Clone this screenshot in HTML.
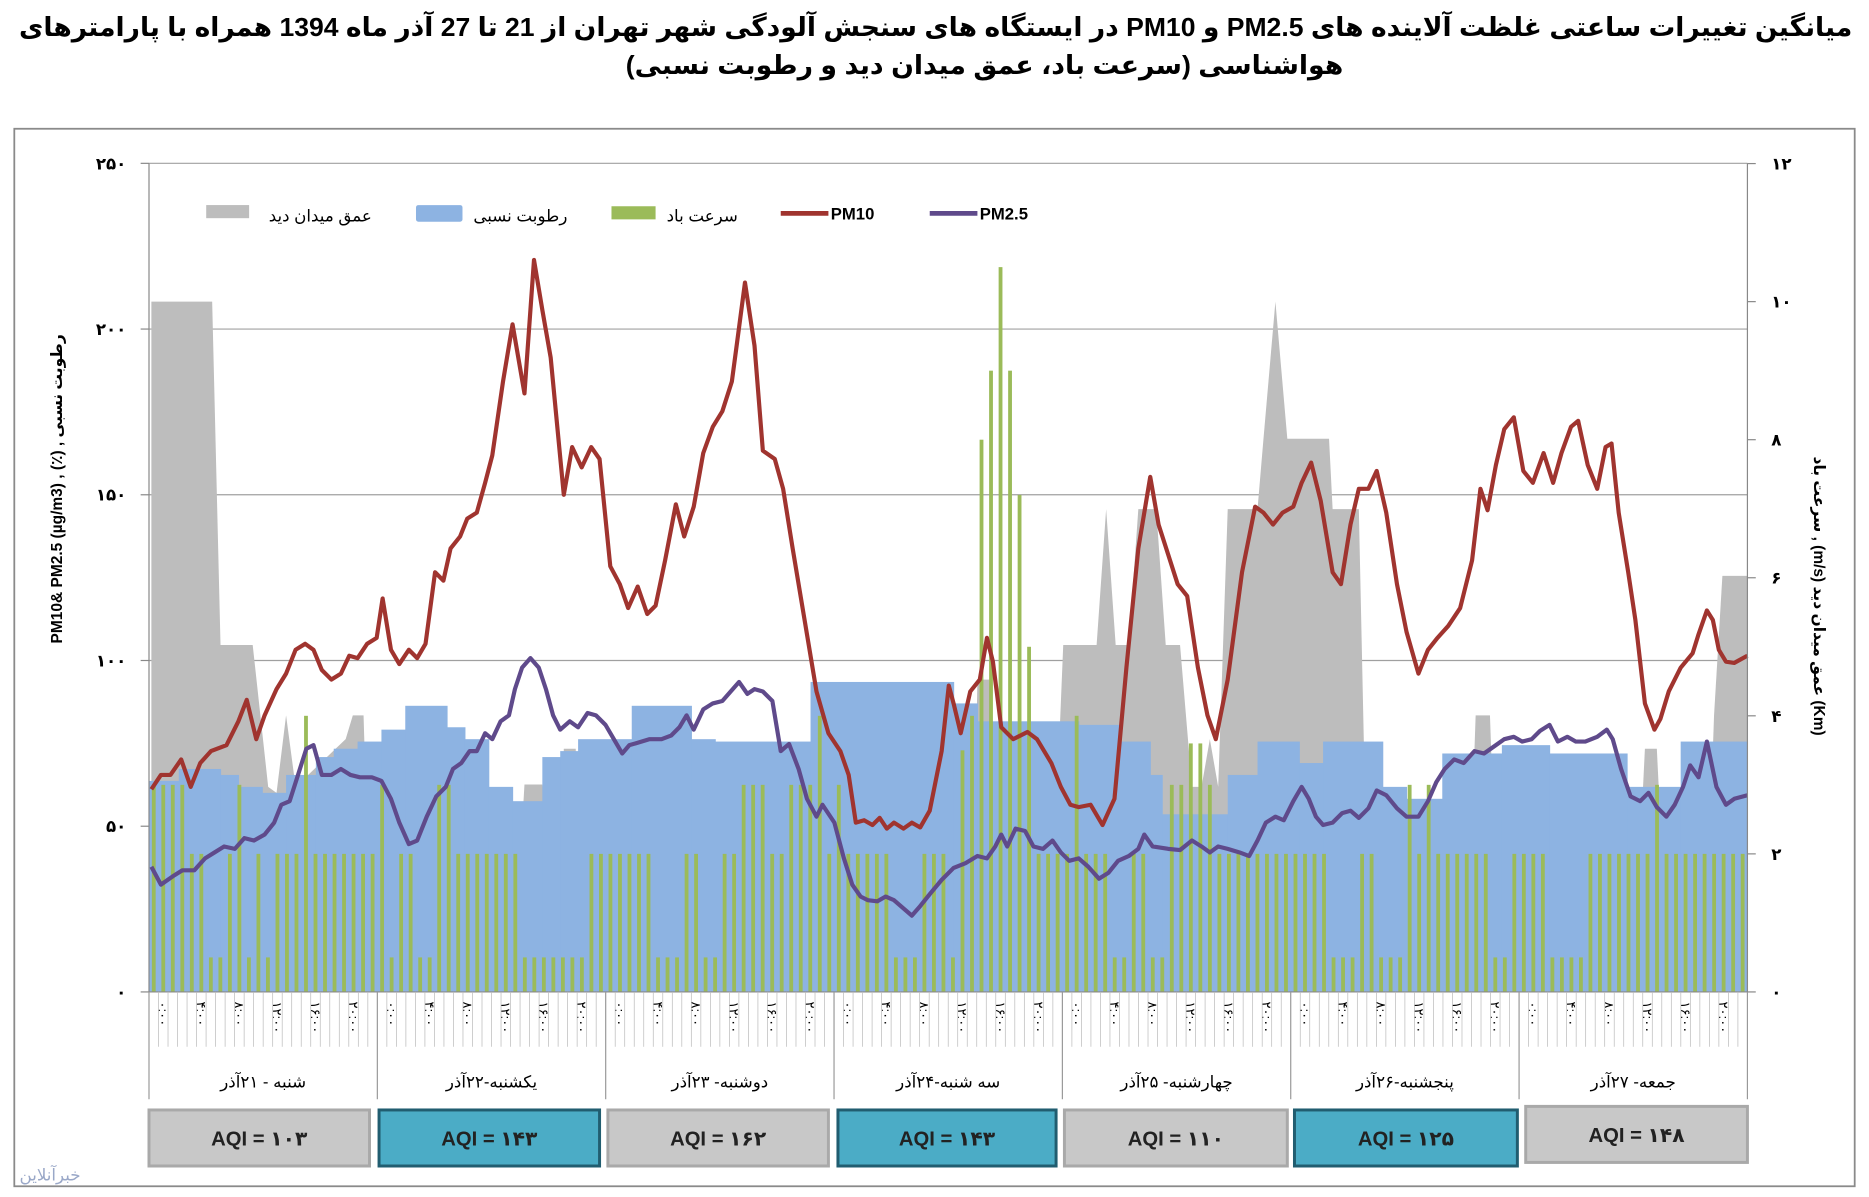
<!DOCTYPE html>
<html><head><meta charset="utf-8">
<style>
html,body{margin:0;padding:0;background:#fff;}
svg{display:block;}
text{font-family:"Liberation Sans","DejaVu Sans",sans-serif;}
</style></head>
<body>
<svg id="s" width="1869" height="1197" viewBox="0 0 1568 1004" preserveAspectRatio="none" xmlns="http://www.w3.org/2000/svg">
<rect width="1568" height="1004" fill="#fff"/>
<text x="785" y="30" text-anchor="middle" font-size="22" font-weight="bold" direction="rtl" textLength="1538" lengthAdjust="spacingAndGlyphs">میانگین تغییرات ساعتی غلظت آلاینده های PM2.5 و PM10 در ایستگاه های سنجش آلودگی شهر تهران از 21 تا 27 آذر ماه 1394 همراه با پارامترهای</text>
<text x="826" y="62" text-anchor="middle" font-size="22" font-weight="bold" direction="rtl" textLength="602" lengthAdjust="spacingAndGlyphs">هواشناسی (سرعت باد، عمق میدان دید و رطوبت نسبی)</text>
<rect x="12" y="108" width="1544" height="887" fill="#fff" stroke="#8a8a8a" stroke-width="1.5"/>
<g id="grid"></g>
<g id="gray"></g>
<g id="hum"></g>
<g id="wind"></g>
<g id="lines"></g>
<g id="axes"></g>
</svg>
<script>
var NS="http://www.w3.org/2000/svg",S=document.getElementById('s');
function el(p,t,a,txt){var e=document.createElementNS(NS,t);for(var k in a)e.setAttribute(k,a[k]);if(txt!==undefined)e.textContent=txt;document.getElementById(p)?document.getElementById(p).appendChild(e):S.appendChild(e);return e;}
var X0=125,X1=1466,Y0=832,HW=(X1-X0)/168;
[137,276,415,554,693].forEach(function(y){el('grid','line',{x1:X0,x2:X1,y1:y,y2:y,stroke:'#a0a0a0','stroke-width':1});});
var gp=[[[127,832],[127,253],[178,253],[185,541],[212,541],[225,660],[232,665],[240,600],[248,660],[290,620],[296,600],[305,600],[312,832]],
[[430,832],[440,658],[455,658],[465,832]],[[470,832],[473,628],[483,628],[490,832]],
[[815,832],[820,570],[830,570],[835,832]],
[[880,832],[892,541],[920,541],[928,427],[936,541],[947,541],[955,427],[970,427],[978,541],[990,541],[1000,660],[1008,660],[1015,620],[1022,660],[1030,427],[1055,427],[1060,368],[1070,253],[1080,368],[1115,368],[1118,427],[1140,427],[1145,660],[1150,832]],
[[1230,832],[1238,600],[1250,600],[1258,832]],[[1370,832],[1380,628],[1390,628],[1400,832]],
[[1430,832],[1438,600],[1445,483],[1466,483],[1466,832]]];
gp.forEach(function(p){el('gray','polygon',{points:p.join(' '),fill:'#bdbdbd'});});
var hs=[[125,150,655],[150,185,645],[185,200,650],[200,220,660],[220,240,665],[240,265,650],[265,280,635],[280,300,628],[300,320,622],[320,340,612],[340,375,592],[375,390,610],[390,410,620],[410,430,660],[430,455,672],[455,470,635],[470,485,630],[485,530,620],[530,580,592],[580,600,620],[600,680,622],[680,800,572],[800,820,590],[820,905,605],[905,940,608],[940,965,622],[965,975,650],[975,1030,683],[1030,1055,650],[1055,1090,622],[1090,1110,640],[1110,1160,622],[1160,1180,660],[1180,1210,670],[1210,1260,632],[1260,1300,625],[1300,1365,632],[1365,1410,660],[1410,1466,622]];
hs.forEach(function(h){el('hum','rect',{x:h[0],y:h[2],width:h[1]-h[0]+0.5,height:Y0-h[2],fill:'#8db3e2'});});
var pat="ccccbbaabcababbbcbbbbbbb"+"cabbaaccbbbbbbbaaaaaaabb"+"bbbbbaaabbaabbcccbbcccbb"+"cbbbbbaaabbbaaaabbbbbbbb"+"bbbbbaabbaaccbbcbbbbbbbb"+"bbbbaaabbaaacbcbbbbbbaab"+"bbbaaaabbbbbbbcbbbbbbbbb";
var wv={a:0.5,b:2,c:3},ov={16:4,70:4,85:3.5,86:4,87:8,88:9,89:10.5,90:9,91:7.2,92:5,97:4,109:3.6,110:3.6,111:3};
for(var h=0;h<168;h++){var v=ov[h]!==undefined?ov[h]:wv[pat[h]];var y=Y0-v*57.9;var x=X0+(h+0.5)*HW;
el('wind','rect',{x:x-1.6,y:y,width:3.2,height:Y0-y,fill:'#9bbb59'});}
var pm10=[[127,662],[135,650],[143,650],[152,637],[160,660],[168,640],[177,630],[190,625],[200,605],[207,587],[215,620],[222,600],[232,578],[240,565],[248,545],[256,540],[263,545],[270,562],[278,570],[286,565],[293,550],[300,552],[308,540],[316,535],[321,502],[328,545],[335,557],[343,545],[350,552],[357,540],[365,480],[372,487],[378,460],[386,450],[392,435],[400,430],[407,405],[413,382],[422,320],[430,272],[440,330],[448,218],[455,260],[462,300],[473,415],[480,375],[488,392],[496,375],[503,385],[512,475],[520,490],[527,510],[535,492],[543,515],[550,508],[558,470],[567,423],[574,450],[582,425],[590,380],[598,358],[606,345],[614,320],[618,290],[625,237],[633,290],[640,378],[650,385],[657,410],[665,460],[675,520],[685,580],[695,615],[705,630],[712,650],[718,690],[725,688],[732,692],[738,686],[744,695],[750,690],[758,695],[765,690],[772,694],[780,680],[790,630],[796,575],[800,590],[806,615],[814,580],[822,570],[828,535],[833,555],[840,610],[850,620],[862,614],[870,620],[882,640],[890,660],[898,675],[905,677],[915,675],[925,692],[935,670],[945,560],[955,460],[965,400],[972,440],[980,465],[988,490],[996,500],[1005,560],[1013,600],[1020,620],[1030,570],[1042,480],[1053,425],[1060,430],[1068,440],[1076,430],[1085,425],[1092,405],[1100,388],[1108,420],[1118,480],[1125,490],[1133,440],[1140,410],[1148,410],[1155,395],[1163,430],[1172,490],[1180,530],[1190,565],[1198,545],[1206,535],[1215,525],[1225,510],[1235,470],[1242,410],[1248,428],[1255,390],[1262,360],[1270,350],[1278,395],[1286,405],[1295,380],[1303,405],[1310,380],[1318,358],[1324,353],[1332,390],[1340,410],[1347,375],[1352,372],[1358,430],[1366,480],[1372,520],[1380,590],[1388,612],[1393,603],[1400,580],[1410,560],[1420,548],[1425,532],[1432,512],[1437,520],[1442,545],[1448,555],[1455,556],[1466,550]];
var pm25=[[127,727],[135,742],[145,735],[153,730],[163,730],[172,720],[180,715],[188,710],[197,712],[205,703],[213,705],[222,700],[230,690],[236,675],[243,672],[250,650],[257,628],[263,625],[270,650],[278,650],[286,645],[294,650],[302,652],[312,652],[320,655],[328,670],[335,690],[343,708],[350,705],[358,685],[366,668],[374,660],[380,645],[387,640],[394,630],[400,630],[407,615],[413,620],[420,605],[427,600],[432,578],[438,560],[445,552],[452,560],[458,578],[464,600],[470,612],[478,605],[485,610],[493,598],[500,600],[508,608],[515,620],[522,632],[528,625],[535,623],[545,620],[555,620],[563,617],[570,610],[576,600],[582,612],[590,595],[598,590],[606,588],[613,580],[620,572],[627,582],[633,578],[640,580],[648,588],[655,630],[662,624],[670,645],[677,670],[685,685],[690,675],[700,690],[708,720],[715,742],[722,752],[728,755],[736,756],[743,752],[750,755],[758,762],[765,768],[772,760],[780,750],[790,738],[800,728],[810,724],[820,718],[828,720],[835,710],[840,700],[845,710],[852,695],[860,697],[867,710],[875,712],[883,705],[890,715],[897,722],[905,720],[913,727],[922,737],[930,732],[938,722],[947,718],[955,712],[960,700],[967,710],[980,712],[990,713],[1000,705],[1008,710],[1015,715],[1022,710],[1030,712],[1040,715],[1048,718],[1055,705],[1062,690],[1070,685],[1077,688],[1085,672],[1092,660],[1098,670],[1104,685],[1110,692],[1118,690],[1126,682],[1133,680],[1140,686],[1148,678],[1155,663],[1163,667],[1172,678],[1180,685],[1190,685],[1198,672],[1205,656],[1212,645],[1220,637],[1228,640],[1237,630],[1245,632],[1255,625],[1262,620],[1270,618],[1277,622],[1285,620],[1292,613],[1300,608],[1307,622],[1315,618],[1322,622],[1330,622],[1340,618],[1348,612],[1353,620],[1360,645],[1368,668],[1376,672],[1383,665],[1390,677],[1398,685],[1405,675],[1412,660],[1418,642],[1425,652],[1432,622],[1440,660],[1448,675],[1455,670],[1466,667]];
el('lines','polyline',{points:pm10.join(' '),fill:'none',stroke:'#a0342f','stroke-width':3.5,'stroke-linejoin':'round'});
el('lines','polyline',{points:pm25.join(' '),fill:'none',stroke:'#5f4a8b','stroke-width':3.5,'stroke-linejoin':'round'});
el('axes','line',{x1:X0,x2:X0,y1:137,y2:832,stroke:'#888'});
el('axes','line',{x1:X1,x2:X1,y1:137,y2:832,stroke:'#888'});
el('axes','line',{x1:X0,x2:X1,y1:832,y2:832,stroke:'#888'});
var fa=['۰','۵۰','۱۰۰','۱۵۰','۲۰۰','۲۵۰'];
fa.forEach(function(t,i){var y=832-i*139;el('axes','line',{x1:118,x2:X0,y1:y,y2:y,stroke:'#888'});el('axes','text',{x:106,y:y+5,'text-anchor':'end','font-size':14,'font-weight':'bold'},t);});
var fr=['۰','۲','۴','۶','۸','۱۰','۱۲'];
fr.forEach(function(t,i){var y=832-i*115.8;el('axes','line',{x1:X1,x2:X1+7,y1:y,y2:y,stroke:'#888'});el('axes','text',{x:1486,y:y+5,'font-size':14,'font-weight':'bold'},t);});
for(var h=0;h<=168;h++){var x=X0+h*HW;var d=(h%24==0);el('axes','line',{x1:x,x2:x,y1:832,y2:d?922:878,stroke:d?'#999':'#bbb','stroke-width':d?1:0.6});
 if(h<168&&h%4==0){var lab=['۰:۰۰','۴:۰۰','۸:۰۰','۱۲:۰۰','۱۶:۰۰','۲۰:۰۰'][(h%24)/4];var tx=x+HW/2+4;el('axes','text',{x:tx,y:840,'font-size':11,transform:'rotate(90 '+tx+' 840)'},lab);}}
var days=['شنبه - ۲۱آذر','یکشنبه-۲۲آذر','دوشنبه- ۲۳آذر','سه شنبه-۲۴آذر','چهارشنبه- ۲۵آذر','پنجشنبه-۲۶آذر','جمعه- ۲۷آذر'];
days.forEach(function(t,i){el('axes','text',{x:X0+(i+0.5)*24*HW,y:912,'text-anchor':'middle','font-size':14,direction:'rtl'},t);});
var aq=[[125,310,'۱۰۳',0],[318,503,'۱۴۳',1],[510,695,'۱۶۲',0],[703,886,'۱۴۳',1],[893,1080,'۱۱۰',0],[1086,1273,'۱۲۵',1],[1280,1466,'۱۴۸',0]];
aq.forEach(function(a,i){var y=i==6?928:931;el('axes','rect',{x:a[0],y:y,width:a[1]-a[0],height:47,fill:a[3]?'#4bacc6':'#c8c8c8',stroke:a[3]?'#215d70':'#a9a9a9','stroke-width':2.5});
 el('axes','text',{x:(a[0]+a[1])/2,y:y+30,'text-anchor':'middle','font-size':17,'font-weight':'bold',fill:'#222'},'AQI = '+a[2]);});
el('axes','rect',{x:173,y:172,width:36,height:11,fill:'#bdbdbd'});
el('axes','text',{x:312,y:186,'text-anchor':'end','font-size':14},'عمق میدان دید');
el('axes','rect',{x:349,y:172,width:39,height:14,rx:2,fill:'#8db3e2'});
el('axes','text',{x:476,y:186,'text-anchor':'end','font-size':14},'رطوبت نسبی');
el('axes','rect',{x:513,y:173,width:37,height:11,fill:'#9bbb59'});
el('axes','text',{x:619,y:186,'text-anchor':'end','font-size':14},'سرعت باد');
el('axes','line',{x1:655,x2:695,y1:179,y2:179,stroke:'#a0342f','stroke-width':4});
el('axes','text',{x:697,y:184,'font-size':14,'font-weight':'bold'},'PM10');
el('axes','line',{x1:780,x2:820,y1:179,y2:179,stroke:'#5f4a8b','stroke-width':4});
el('axes','text',{x:822,y:184,'font-size':14,'font-weight':'bold'},'PM2.5');
el('axes','text',{x:52,y:410,'text-anchor':'middle','font-size':13,'font-weight':'bold',transform:'rotate(-90 52 410)'},'PM10& PM2.5 (µg/m3) , (٪) , رطوبت نسبی');
el('axes','text',{x:1522,y:500,'text-anchor':'middle','font-size':13,'font-weight':'bold',transform:'rotate(90 1522 500)'},'سرعت باد , (m/s)  عمق میدان دید (Km)');
el('axes','text',{x:42,y:990,'text-anchor':'middle','font-size':14,fill:'#9aa8c8'},'خبرآنلاین');
</script>
</body></html>
